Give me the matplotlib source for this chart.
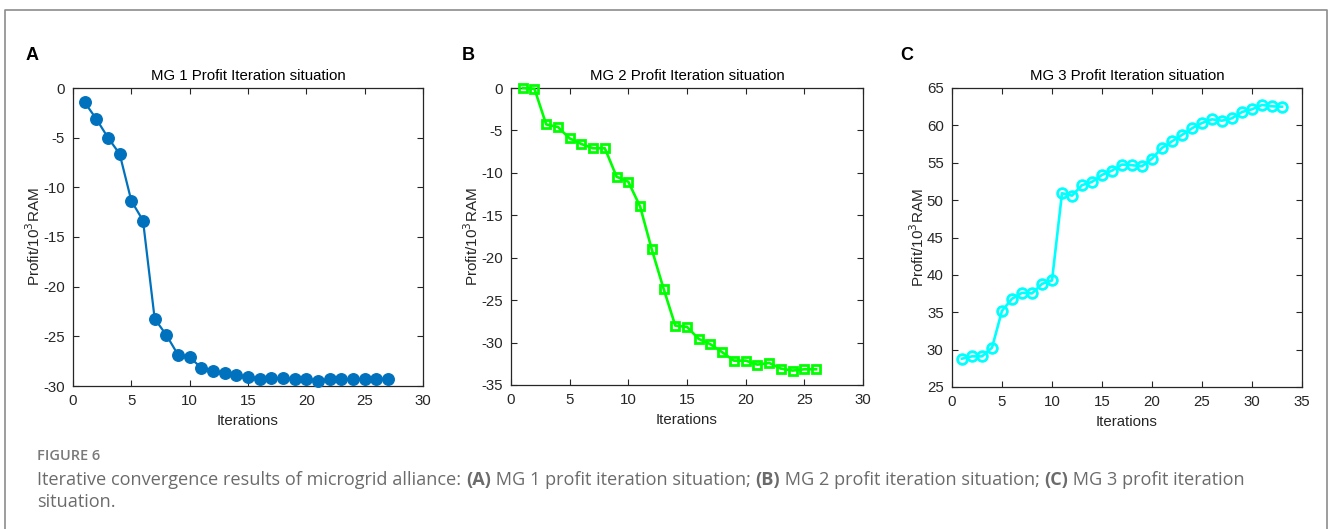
import matplotlib
matplotlib.use('Agg')
import matplotlib.pyplot as plt

# Profit per iteration
mg1_iter = list(range(1, 28))
mg1_profit = [-1.44, -3.12, -5.0, -6.64, -11.36, -13.34, -23.23, -24.87, -26.85, -27.12,
              -28.16, -28.46, -28.73, -28.93, -29.06, -29.27, -29.2, -29.2, -29.33, -29.33,
              -29.53, -29.33, -29.33, -29.33, -29.27, -29.27, -29.27]

mg2_iter = list(range(1, 27))
mg2_profit = [0.0, -0.1, -4.29, -4.6, -5.94, -6.6, -7.1, -7.1, -10.46, -11.05,
              -13.96, -19.03, -23.63, -28.0, -28.15, -29.57, -30.2, -31.14, -32.13, -32.13,
              -32.6, -32.4, -33.07, -33.3, -33.15, -33.15]

mg3_iter = list(range(1, 34))
mg3_profit = [28.79, 29.1, 29.1, 30.26, 35.2, 36.8, 37.6, 37.52, 38.8, 39.25,
              50.92, 50.6, 52.0, 52.44, 53.37, 53.95, 54.76, 54.67, 54.53, 55.56,
              56.98, 57.87, 58.72, 59.61, 60.32, 60.81, 60.63, 60.95, 61.79, 62.15,
              62.73, 62.55, 62.5]

titles = ['MG 1 Profit Iteration situation', 'MG 2 Profit Iteration situation',
          'MG 3 Profit Iteration situation']
letters = ['A', 'B', 'C']
xlims = [(0, 30), (0, 30), (0, 35)]
ylims = [(-30, 0), (-35, 0), (25, 65)]

plt.rcParams['font.family'] = ['Liberation Sans', 'DejaVu Sans']
plt.rcParams['axes.unicode_minus'] = False

W, H = 1328, 529
fig = plt.figure(figsize=(W / 100, H / 100), dpi=100)

# full-figure overlay for frame and caption
over = fig.add_axes([0, 0, 1, 1])
over.set_xlim(0, W)
over.set_ylim(H, 0)
over.axis('off')
over.plot([5, 5, 1326.5, 1326.5], [H, 10, 10, H], color='#8c8c8c', lw=1.2, clip_on=False)

# axes boxes in pixel coords: left, right, top, bottom
boxes = [(73, 423, 88, 386), (511, 863, 88, 385), (952, 1302, 88, 387)]
letter_x = [26, 462, 900]

ink = '#262626'
series = [(mg1_iter, mg1_profit), (mg2_iter, mg2_profit), (mg3_iter, mg3_profit)]
styles = [
    dict(color='#0072BD', marker='o', markersize=8.3, markerfacecolor='#0072BD',
         markeredgecolor='#0072BD', lw=1.6),
    dict(color='#00FF00', marker='s', markersize=5.5, markerfacecolor='none',
         markeredgecolor='#00FF00', markeredgewidth=2.0, lw=1.9),
    dict(color='#00FFFF', marker='o', markersize=7, markerfacecolor='none',
         markeredgecolor='#00FFFF', markeredgewidth=2.0, lw=1.9),
]

for i, (l, r, t, b) in enumerate(boxes):
    ax = fig.add_axes([l / W, 1 - b / H, (r - l) / W, (b - t) / H])
    x, y = series[i]
    ax.plot(x, y, clip_on=False, zorder=3, **styles[i])
    ax.set_xlim(*xlims[i])
    ax.set_ylim(*ylims[i])
    ax.set_title(titles[i], fontsize=10.8, color='black', pad=6)
    ax.set_xlabel('Iterations', fontsize=10.8, color=ink, labelpad=4)
    ax.set_ylabel('Profit/10$^3$RAM', fontsize=11, color=ink, labelpad=0)
    ax.tick_params(direction='in', top=True, right=True, labelsize=10.8,
                   colors=ink, length=4, width=0.8, pad=6)
    for s in ax.spines.values():
        s.set_color(ink)
        s.set_linewidth(0.9)
    over.text(letter_x[i], 56, letters[i], fontsize=13, fontweight='bold',
              va='center', ha='left', color='black')

# caption
cap_font = ['Open Sans', 'DejaVu Sans']
cap_col = '#6b6b6b'
cap_size = 13.1
over.text(37, 456, 'FIGURE 6', fontsize=10.5, color='#7a7a7a',
          fontweight='semibold', family=cap_font, va='center')

pieces = [('Iterative convergence results of microgrid alliance: ', 'normal'),
          ('(A)', 'bold'), (' MG 1 profit iteration situation; ', 'normal'),
          ('(B)', 'bold'), (' MG 2 profit iteration situation; ', 'normal'),
          ('(C)', 'bold'), (' MG 3 profit iteration', 'normal')]
prev = None
for txt, wt in pieces:
    if prev is None:
        prev = over.text(37, 480, txt, fontsize=cap_size, family=cap_font, color=cap_col,
                         fontweight=wt, va='center', ha='left')
    else:
        prev = over.annotate(txt, xy=(1, 0.5), xycoords=prev, fontsize=cap_size,
                             family=cap_font, color=cap_col, fontweight=wt,
                             va='center', ha='left')
over.text(37, 502, 'situation.', fontsize=cap_size, family=cap_font, color=cap_col,
          va='center', ha='left')

fig.savefig('out.png', dpi=100)
